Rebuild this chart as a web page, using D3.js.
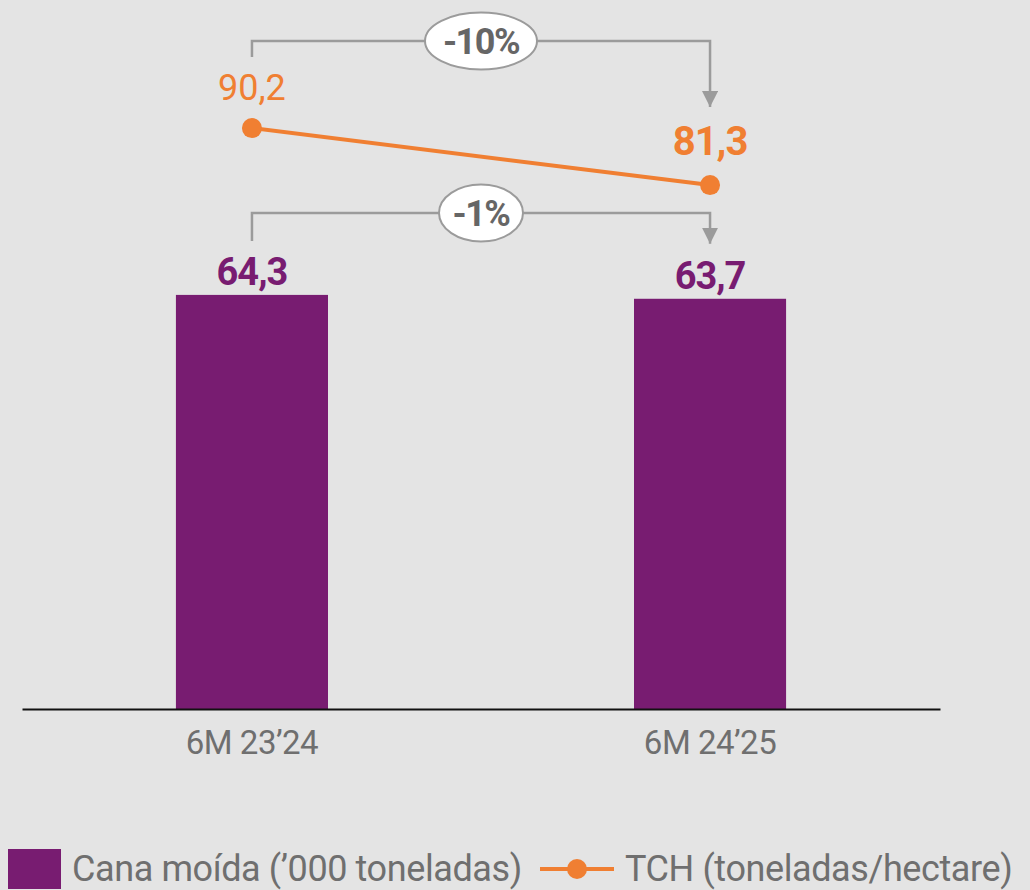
<!DOCTYPE html>
<html><head><meta charset="utf-8">
<script src="https://cdn.jsdelivr.net/npm/d3@7"></script>
<style>
html,body{margin:0;padding:0;background:#e4e4e4;}
svg{display:block;font-family:Roboto,"Noto Sans",sans-serif;}
</style></head>
<body>
<svg id="c" width="1030" height="890"></svg>
<script>
const categories = ["6M 23’24", "6M 24’25"];
const canaMoida = [64.3, 63.7];
const tch = [90.2, 81.3];
const canaLabels = ["64,3", "63,7"];
const tchLabels = ["90,2", "81,3"];
const changes = [{label: "-10%", series: "tch"}, {label: "-1%", series: "cana"}];
const legendLabels = ["Cana moída (’000 toneladas)", "TCH (toneladas/hectare)"];

const purple = "#781c71", orange = "#f07f32", grey = "#9b9b9b", textGrey = "#6f6f6f";

const svg = d3.select("#c");
const x = d3.scaleBand().domain(categories).range([22, 940]).paddingInner(0.668).paddingOuter(0.336);
const yBar = d3.scaleLinear().domain([0, 100]).range([709, 65]);
const yLine = d3.scaleLinear().domain([0, 100]).range([705.7, 65.3]);
const cx = c => x(c) + x.bandwidth() / 2;

// bars
svg.selectAll("rect.bar").data(categories).join("rect")
  .attr("class", "bar")
  .attr("x", d => x(d)).attr("width", x.bandwidth())
  .attr("y", (d, i) => yBar(canaMoida[i]))
  .attr("height", (d, i) => yBar(0) - yBar(canaMoida[i]))
  .attr("fill", purple);

// axis
const xAxis = svg.append("g").attr("transform", `translate(0,${yBar(0)})`)
  .call(d3.axisBottom(x).tickSize(0).tickPadding(22));
xAxis.select(".domain").attr("stroke", "#111").attr("stroke-width", 2);
xAxis.selectAll("text").attr("font-size", 33).attr("fill", textGrey)
  .attr("font-family", "Roboto").style("letter-spacing", "-0.5px");

// bar labels
svg.selectAll("text.barlab").data(categories).join("text")
  .attr("class", "barlab")
  .attr("x", d => cx(d)).attr("y", (d, i) => yBar(canaMoida[i]) - 10)
  .attr("text-anchor", "middle").attr("font-size", 38).attr("font-weight", 700)
  .style("letter-spacing", "-1px")
  .attr("fill", purple).text((d, i) => canaLabels[i]);

// line
const line = d3.line().x((d, i) => cx(categories[i])).y(d => yLine(d));
svg.append("path").datum(tch).attr("d", line)
  .attr("fill", "none").attr("stroke", orange).attr("stroke-width", 4);
svg.selectAll("circle.pt").data(tch).join("circle")
  .attr("class", "pt")
  .attr("cx", (d, i) => cx(categories[i])).attr("cy", d => yLine(d))
  .attr("r", 10).attr("fill", orange);

// line labels
svg.append("text").attr("x", cx(categories[0])).attr("y", yLine(tch[0]) - 28)
  .attr("text-anchor", "middle").attr("font-size", 36).attr("font-weight", 400)
  .attr("fill", orange).text(tchLabels[0]);
svg.append("text").attr("x", cx(categories[1])).attr("y", yLine(tch[1]) - 30)
  .attr("text-anchor", "middle").attr("font-size", 40).attr("font-weight", 700)
  .style("letter-spacing", "-1px")
  .attr("fill", orange).text(tchLabels[1]);

// brackets
const defs = svg.append("defs");
defs.append("marker").attr("id", "arr").attr("viewBox", "0 0 10 10")
  .attr("refX", 10).attr("refY", 5).attr("markerWidth", 6.5).attr("markerHeight", 6.5)
  .attr("markerUnits", "strokeWidth").attr("orient", "auto")
  .append("path").attr("d", "M0,0 L10,5 L0,10 Z").attr("fill", grey);

function bracket(yTop, yLeft, yRight, label, rx) {
  const x0 = cx(categories[0]), x1 = cx(categories[1]);
  svg.append("path")
    .attr("d", `M${x0},${yLeft} V${yTop} H${x1} V${yRight}`)
    .attr("fill", "none").attr("stroke", grey).attr("stroke-width", 2.5)
    .attr("marker-end", "url(#arr)");
  const mx = (x0 + x1) / 2 + 0;
  svg.append("ellipse").attr("cx", mx).attr("cy", yTop).attr("rx", rx).attr("ry", 28.5)
    .attr("fill", "#fff").attr("stroke", grey).attr("stroke-width", 2);
  svg.append("text").attr("x", mx).attr("y", yTop + 13).attr("text-anchor", "middle")
    .attr("font-size", 36).attr("font-weight", 700).attr("fill", "#666")
    .style("letter-spacing", "-1.5px").text(label);
}
bracket(41, yLine(tch[0]) - 71, yLine(tch[1]) - 78, changes[0].label, 56);
bracket(213, yBar(canaMoida[0]) - 54, yBar(canaMoida[1]) - 55, changes[1].label, 42);

// legend
const lg = svg.append("g");
lg.append("rect").attr("x", 8).attr("y", 849).attr("width", 53).attr("height", 40).attr("fill", purple);
lg.append("text").attr("x", 72).attr("y", 881).attr("font-size", 36).attr("fill", textGrey)
  .style("letter-spacing", "-0.4px").text(legendLabels[0]);
lg.append("line").attr("x1", 540).attr("x2", 614).attr("y1", 869).attr("y2", 869)
  .attr("stroke", orange).attr("stroke-width", 4);
lg.append("circle").attr("cx", 577).attr("cy", 869).attr("r", 10).attr("fill", orange);
lg.append("text").attr("x", 625).attr("y", 881).attr("font-size", 36).attr("fill", textGrey)
  .style("letter-spacing", "-0.4px").text(legendLabels[1]);
</script>
</body></html>
